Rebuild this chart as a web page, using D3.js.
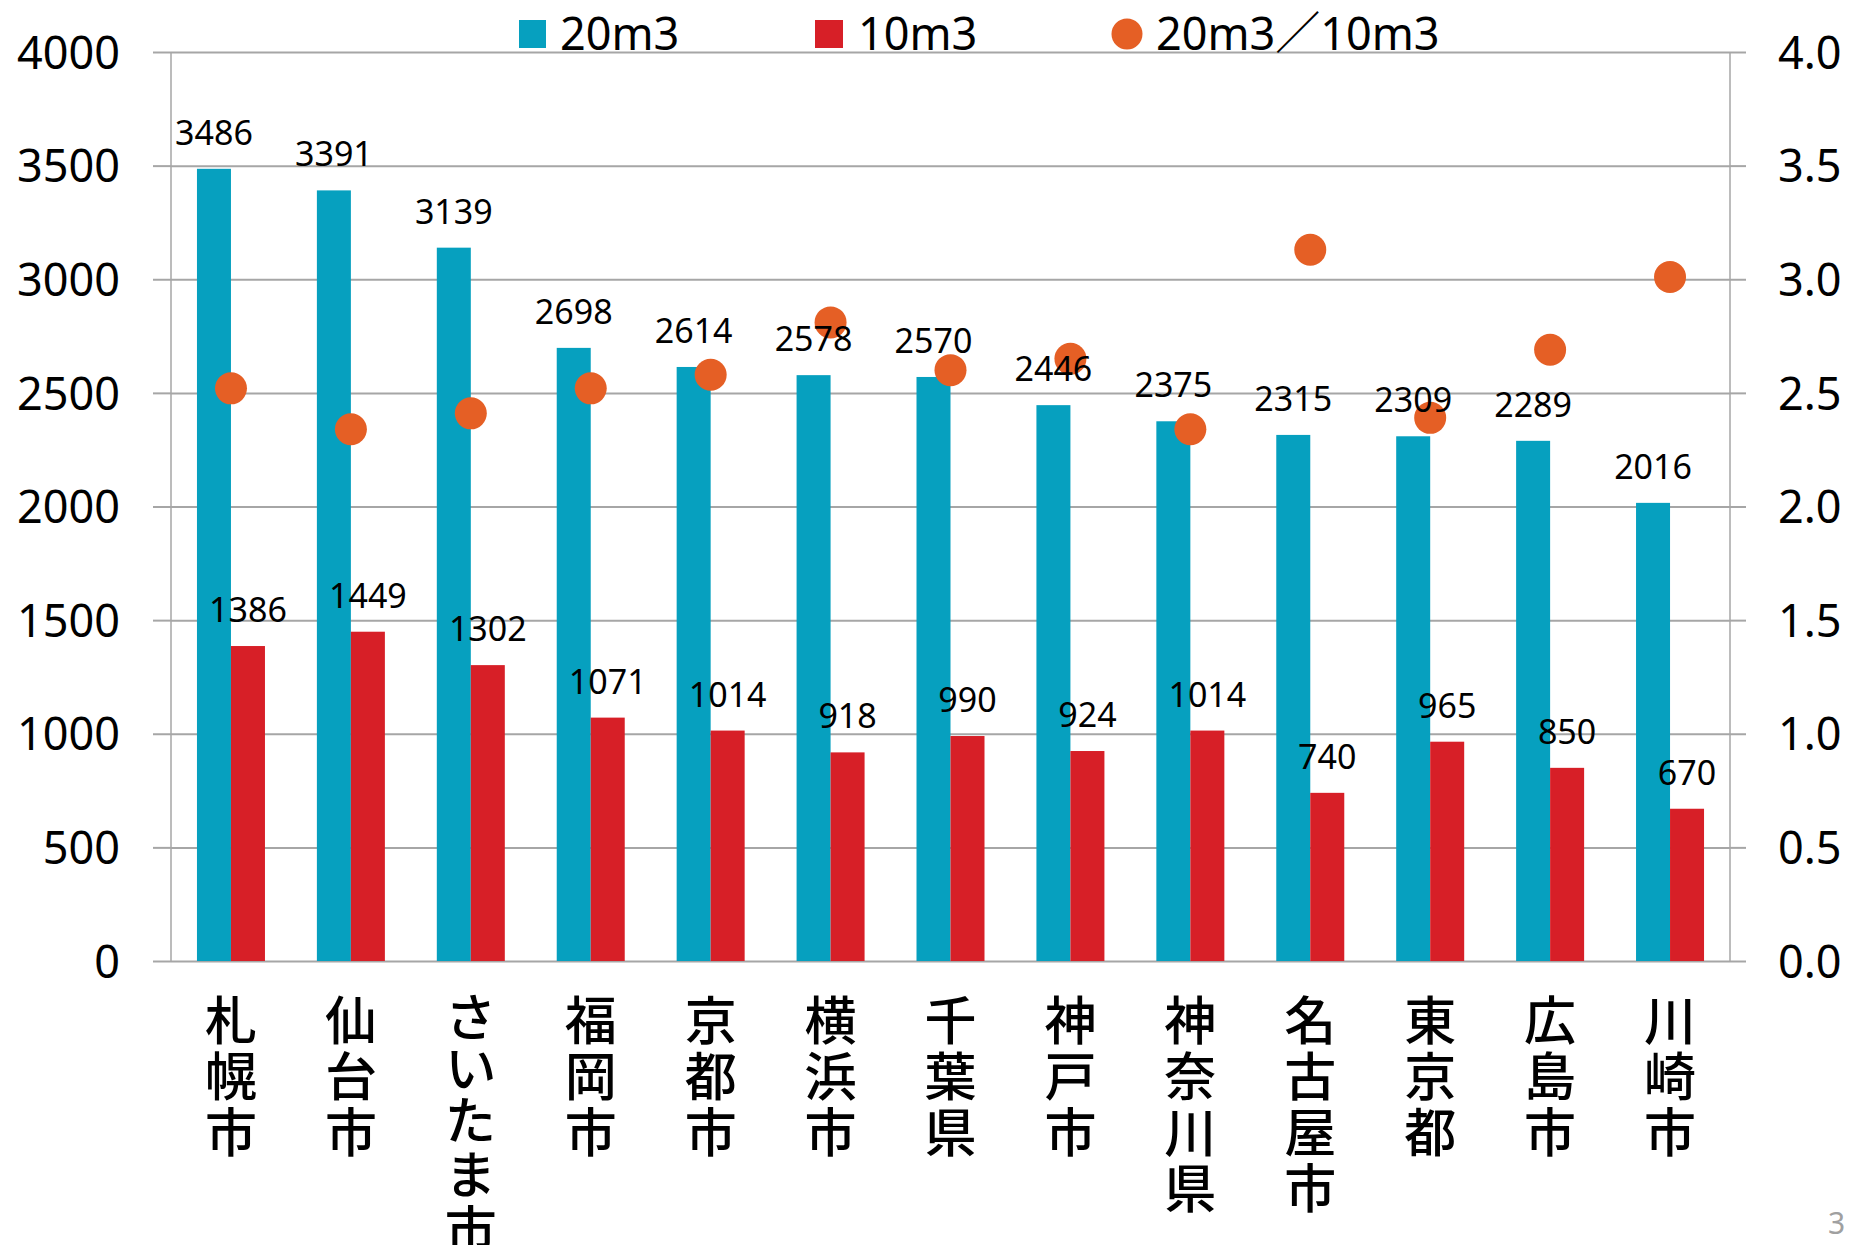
<html>
<head>
<meta charset="utf-8">
<script src="https://d3js.org/d3.v7.min.js"></script>
<style>
  body { margin: 0; background: #fff; }
  text { font-family: "Noto Sans", "Noto Sans CJK JP", sans-serif; }
  .axis path { display: none; }
  .axis text { font-size: 45px; fill: #000; }
</style>
</head>
<body>
<svg width="1849" height="1245"></svg>
<script>
// data
const cities = ["札幌市", "仙台市", "さいたま市", "福岡市", "京都市", "横浜市", "千葉県", "神戸市", "神奈川県", "名古屋市", "東京都", "広島市", "川崎市"];
const vol20 = [3486, 3391, 3139, 2698, 2614, 2578, 2570, 2446, 2375, 2315, 2309, 2289, 2016];
const vol10 = [1386, 1449, 1302, 1071, 1014, 918, 990, 924, 1014, 740, 965, 850, 670];
const ratio = [2.52, 2.34, 2.41, 2.52, 2.58, 2.81, 2.60, 2.65, 2.34, 3.13, 2.39, 2.69, 3.01];
const leftTicks = [0, 500, 1000, 1500, 2000, 2500, 3000, 3500, 4000];
const rightTicks = [0, 0.5, 1, 1.5, 2, 2.5, 3, 3.5, 4];
const legendNames = ["20m3", "10m3", "20m3／10m3"];

const teal = "#06a0bf", red = "#d71f27", orange = "#e55f25", grid = "#a6a6a6";

const svg = d3.select("svg");
const plotL = 171, plotR = 1730, plotT = 52, plotB = 961;
const barW = 34;

const x = d3.scaleBand().domain(cities).range([plotL, plotR]).padding(0);
const y = d3.scaleLinear().domain([0, 4000]).range([plotB, plotT]);
const y2 = d3.scaleLinear().domain([0, 4]).range([plotB, plotT]);

// gridlines
svg.append("g").attr("transform", "translate(" + plotL + ",0)")
  .call(d3.axisLeft(y).tickValues(leftTicks).tickSize(-(plotR - plotL)).tickFormat(""))
  .call(g => g.select(".domain").remove())
  .selectAll("line").attr("stroke", grid).attr("stroke-width", 2);

// vertical axis lines
svg.append("line").attr("x1", plotL).attr("x2", plotL).attr("y1", plotT).attr("y2", plotB)
  .attr("stroke", grid).attr("stroke-width", 1.5);
svg.append("line").attr("x1", plotR).attr("x2", plotR).attr("y1", plotT).attr("y2", plotB)
  .attr("stroke", grid).attr("stroke-width", 1.5);

// left axis
svg.append("g").attr("class", "axis").attr("transform", "translate(" + plotL + ",0)")
  .call(d3.axisLeft(y).tickValues(leftTicks).tickSize(18).tickPadding(33).tickFormat(d3.format("d")))
  .call(g => g.selectAll("line").attr("stroke", grid).attr("stroke-width", 2))
  .call(g => g.selectAll("text").attr("dy", "0.36em"));

// right axis
svg.append("g").attr("class", "axis").attr("transform", "translate(" + plotR + ",0)")
  .call(d3.axisRight(y2).tickValues(rightTicks).tickSize(16).tickPadding(32).tickFormat(d3.format(".1f")))
  .call(g => g.selectAll("line").attr("stroke", grid).attr("stroke-width", 2))
  .call(g => g.selectAll("text").attr("dy", "0.36em"));

const cx = d => x(d) + x.bandwidth() / 2;

// bars
svg.append("g").selectAll("rect").data(cities).enter().append("rect")
  .attr("x", d => cx(d) - barW)
  .attr("y", (d, i) => y(vol20[i]))
  .attr("width", barW)
  .attr("height", (d, i) => plotB - y(vol20[i]))
  .attr("fill", teal);

svg.append("g").selectAll("rect").data(cities).enter().append("rect")
  .attr("x", d => cx(d))
  .attr("y", (d, i) => y(vol10[i]))
  .attr("width", barW)
  .attr("height", (d, i) => plotB - y(vol10[i]))
  .attr("fill", red);

// ratio dots
svg.append("g").selectAll("circle").data(cities).enter().append("circle")
  .attr("cx", d => cx(d))
  .attr("cy", (d, i) => y2(ratio[i]))
  .attr("r", 16)
  .attr("fill", orange);

// value labels
svg.append("g").selectAll("text").data(cities).enter().append("text")
  .attr("x", d => cx(d) - barW / 2)
  .attr("y", (d, i) => y(vol20[i]) - 24)
  .attr("text-anchor", "middle")
  .style("font-size", "34px")
  .text((d, i) => vol20[i]);

svg.append("g").selectAll("text").data(cities).enter().append("text")
  .attr("x", d => cx(d) + barW / 2)
  .attr("y", (d, i) => y(vol10[i]) - 24)
  .attr("text-anchor", "middle")
  .style("font-size", "34px")
  .text((d, i) => vol10[i]);

// category labels, vertical
svg.append("g").selectAll("text").data(cities).enter().append("text")
  .attr("x", d => cx(d))
  .attr("y", 994)
  .style("writing-mode", "vertical-rl")
  .style("font-family", "'Noto Sans CJK JP', sans-serif")
  .style("font-size", "52px")
  .style("font-weight", 500)
  .style("letter-spacing", "4px")
  .style("font-feature-settings", "'vpal'")
  .text(d => d);

// legend
const lg = svg.append("g");
lg.append("rect").attr("x", 519).attr("y", 20).attr("width", 27).attr("height", 28).attr("fill", teal);
lg.append("text").attr("x", 560).attr("y", 50).style("font-size", "45px").text(legendNames[0]);
lg.append("rect").attr("x", 815).attr("y", 20).attr("width", 28).attr("height", 28).attr("fill", red);
lg.append("text").attr("x", 858).attr("y", 50).style("font-size", "45px").text(legendNames[1]);
lg.append("circle").attr("cx", 1127).attr("cy", 34).attr("r", 15.5).attr("fill", orange);
lg.append("text").attr("x", 1156).attr("y", 50).style("font-size", "45px").text(legendNames[2]);

// page number in the corner
svg.append("text").attr("x", 1828).attr("y", 1234).style("font-size", "30px").attr("fill", "#a0a0a0").text("3");
</script>
</body>
</html>
